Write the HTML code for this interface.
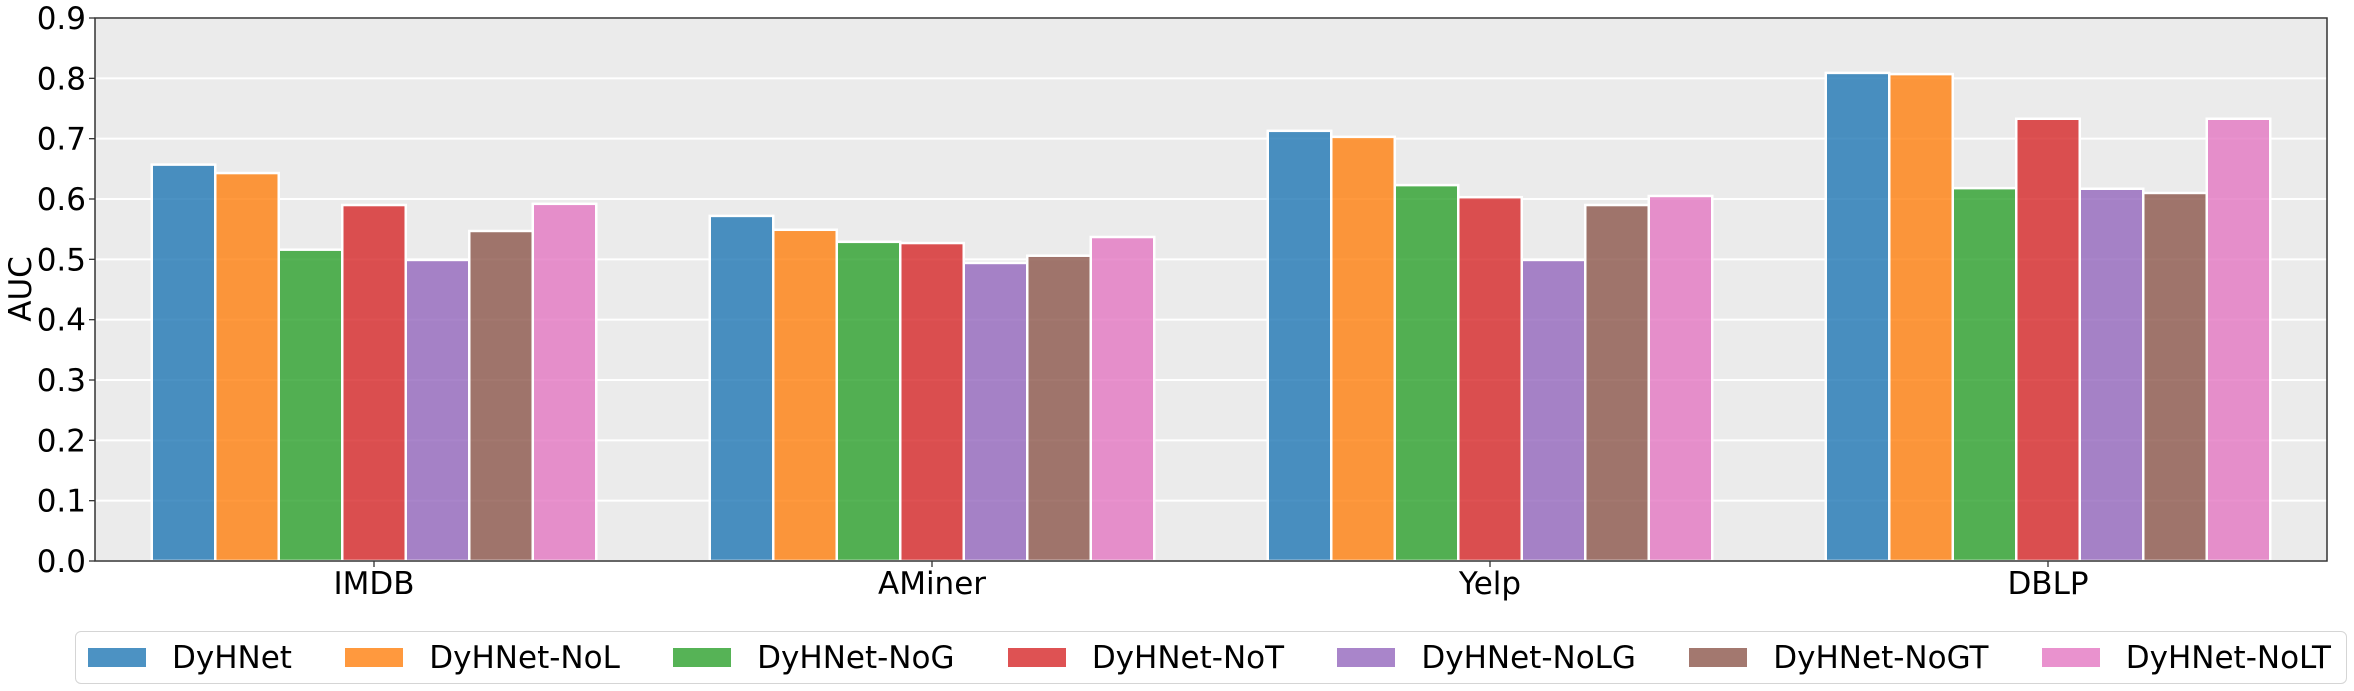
<!DOCTYPE html>
<html><head><meta charset="utf-8"><style>
body{margin:0;background:#fff;width:2354px;height:691px;overflow:hidden;font-family:"Liberation Sans","DejaVu Sans",sans-serif}
#legend{position:absolute;left:75px;top:631px;width:2272px;height:53px;box-sizing:border-box;border:1.5px solid #d5d5d5;border-radius:6px;display:flex;justify-content:space-between;align-items:center;padding:0 15px 0 12px}
.ent{display:flex;align-items:center;font-size:31px;font-family:"DejaVu Sans","Liberation Sans",sans-serif}
.sw{width:58px;height:19px;margin-right:26px;opacity:.8}
</style></head><body>
<svg id="chart" width="2354" height="631" style="position:absolute;left:0;top:0"></svg>
<div id="legend"></div>
<script>
const categories=["IMDB","AMiner","Yelp","DBLP"];
const seriesNames=["DyHNet","DyHNet-NoL","DyHNet-NoG","DyHNet-NoT","DyHNet-NoLG","DyHNet-NoGT","DyHNet-NoLT"];
const colors=["#1f77b4","#ff7f0e","#2ca02c","#d62728","#9467bd","#8c564b","#e377c2"];
const sDyHNet=[0.657,0.572,0.713,0.809];
const sNoL=[0.643,0.549,0.703,0.807];
const sNoG=[0.516,0.529,0.623,0.618];
const sNoT=[0.590,0.527,0.603,0.733];
const sNoLG=[0.499,0.494,0.499,0.617];
const sNoGT=[0.547,0.506,0.590,0.610];
const sNoLT=[0.592,0.537,0.605,0.733];
const series=[sDyHNet,sNoL,sNoG,sNoT,sNoLG,sNoGT,sNoLT];
const yTicks=[0,0.1,0.2,0.3,0.4,0.5,0.6,0.7,0.8,0.9];
const NS="http://www.w3.org/2000/svg";
const svg=document.getElementById('chart');
const L=95,R=2327,T=18,B=561;
const y=v=>B-(v/0.9)*(B-T);
const xc=i=>374+i*558;
const bw=63.5;
function mk(t,a){const e=document.createElementNS(NS,t);for(const k in a)e.setAttribute(k,a[k]);svg.appendChild(e);return e;}
const bg=mk('rect',{x:L,y:T,width:R-L,height:B-T,fill:'#ebebeb'});


yTicks.forEach(t=>{
  const g=mk('line',{x1:L,x2:R,y1:y(t),y2:y(t),stroke:'#fff','stroke-width':2});
  
  
  mk('line',{x1:L-6,x2:L,y1:y(t),y2:y(t),stroke:'#333','stroke-width':1.3});
  const tx=mk('text',{x:L-9,y:y(t)+11,'text-anchor':'end','font-size':31,'font-family':'DejaVu Sans, Liberation Sans, sans-serif',fill:'#000'});
  tx.textContent=t.toFixed(1);
  
  
});
series.forEach((s,j)=>{
  s.forEach((v,i)=>{
    const bx=xc(i)+(j-3.5)*bw;
    const r=mk('rect',{x:bx,y:y(v),width:bw,height:B-y(v),fill:colors[j],'fill-opacity':0.8,stroke:'#fff','stroke-width':2.5});
    
    
  });
});
mk('rect',{x:L,y:T,width:R-L,height:B-T,fill:'none',stroke:'#333','stroke-width':1.5});
categories.forEach((c,i)=>{
  mk('line',{x1:xc(i),x2:xc(i),y1:B,y2:B+6,stroke:'#333','stroke-width':1.3});
  const tx=mk('text',{x:xc(i),y:B+33,'text-anchor':'middle','font-size':31,'font-family':'DejaVu Sans, Liberation Sans, sans-serif',fill:'#000'});
  tx.textContent=c;
  
  
});
const yl=mk('text',{x:0,y:0,transform:'translate(31,289) rotate(-90)','text-anchor':'middle','font-size':31,'font-family':'DejaVu Sans, Liberation Sans, sans-serif',fill:'#000'});
yl.textContent='AUC';


const lg=document.getElementById('legend');
seriesNames.forEach((n,j)=>{
  const e=document.createElement('div');e.className='ent';
  
  
  const sw=document.createElement('div');sw.className='sw';sw.style.background=colors[j];
  
  
  const t=document.createElement('span');t.textContent=n;
  e.appendChild(sw);e.appendChild(t);lg.appendChild(e);
});
</script>
</body></html>
